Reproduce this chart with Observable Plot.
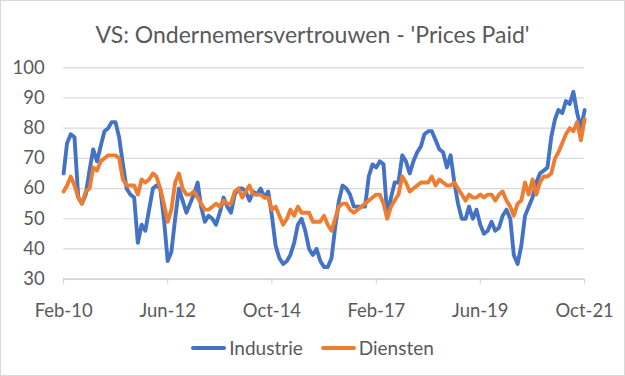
<!DOCTYPE html>
<html>
<head>
<meta charset="utf-8">
<script src="https://cdn.jsdelivr.net/npm/d3@7"></script>
<script src="https://cdn.jsdelivr.net/npm/@observablehq/plot@0.6"></script>
<style>
  html, body { margin: 0; padding: 0; background: #fff; }
  #wrap { position: relative; width: 623px; height: 374px; border: 1px solid #d9d9d9; background: #fff;
          font-family: Lato, "Liberation Sans", sans-serif; color: #595959; overflow: hidden; }
  #title { position: absolute; top: 19px; left: 0; width: 100%; text-align: center; font-size: 23px; line-height: 28px; }
  #chart { position: absolute; left: 0; top: 0; }
  #legend { position: absolute; top: 336px; left: 0; width: 100%; display: flex; justify-content: center;
            align-items: center; font-size: 19px; line-height: 22px; }
  .item { display: flex; align-items: center; margin: 0 9px; }
  .sw { width: 35px; height: 4px; border-radius: 2px; margin-right: 3px; }
</style>
</head>
<body>
<div id="wrap">
  <div id="title">VS: Ondernemersvertrouwen - 'Prices Paid'</div>
  <div id="chart"></div>
  <div id="legend"></div>
</div>
<script>
// Categories: monthly, Feb-10 .. Oct-21
const startYear = 2010, startMonth = 1, monthCount = 141;
const seriesNames = ["Industrie", "Diensten"];
const seriesColors = ["#4472C4", "#ED7D31"];

const industrie = [65,75,78,77,57,55,58,66,73,69,74,79,80,82,82,77,68,60,58,57,
  42,48,46,53,60,61,60,50,36,39,50,60,56,52,55,58,62,54,49,51,
  50,48,52,57,54,52,58,60,60,59,56,59,58,60,57,59,51,41,37,35,
  36,38,42,48,50,46,40,38,40,36,34,34,37,47,56,61,60,58,54,54,
  54,54,64,68,67,69,68,51,57,62,62,71,69,65,69,72,74,78,79,79,
  76,73,72,67,71,62,55,50,50,54,50,53,48,45,46,49,46,47,51,53,
  50,38,35,41,51,54,57,62,65,66,67,77,83,86,85,89,88,92,85,80,86];

const diensten = [59,61,64,61,57,55,59,60,67,66,69,70,71,71,71,70,63,61,61,61,
  58,63,62,63,65,64,60,55,49,53,62,65,60,58,58,59,57,55,53,53,
  54,55,54,56,55,55,59,60,57,59,61,58,58,58,57,57,53,54,51,48,
  50,53,51,54,52,52,52,49,49,49,51,48,46,50,54,55,55,53,52,53,
  54,55,56,57,58,58,55,50,54,56,58,64,62,59,60,61,62,62,62,64,
  61,63,62,61,61,62,60,58,56,58,57,57,58,57,58,58,56,58,59,56,
  54,51,55,56,62,58,63,58,62,64,64,65,70,72,75,78,80,79,82,76,83];

const yTicks = [30, 40, 50, 60, 70, 80, 90, 100];
const xTickEvery = 28; // months between labels

const months = d3.range(monthCount).map(i => new Date(Date.UTC(startYear, startMonth + i, 1)));
const xTicks = months.filter((d, i) => i % xTickEvery === 0);
const fmt = d3.utcFormat("%b-%y");

const rows = [];
seriesNames.forEach((s, k) => {
  const vals = k === 0 ? industrie : diensten;
  months.forEach((d, i) => rows.push({date: d, value: vals[i], series: s}));
});

const chart = Plot.plot({
  width: 625,
  height: 330,
  marginLeft: 62.3,
  marginRight: 40,
  marginTop: 66.5,
  marginBottom: 51.5,
  style: {fontFamily: 'Lato, "Liberation Sans", sans-serif', fontSize: "18.5px", color: "#595959", background: "transparent", overflow: "visible"},
  x: {type: "utc", domain: [months[0], months[monthCount - 1]]},
  y: {domain: [30, 100]},
  color: {domain: seriesNames, range: seriesColors},
  marks: [
    Plot.gridY(yTicks, {stroke: "#d9d9d9", strokeOpacity: 1, strokeWidth: 1.2}),
    Plot.ruleY([30], {stroke: "#d0d0d0", strokeWidth: 1.2}),
    Plot.axisX({ticks: xTicks, tickFormat: fmt, tickSize: 5, tickPadding: 20, stroke: "#d0d0d0", fill: "#595959", label: null}),
    Plot.axisY({ticks: yTicks, tickSize: 0, tickPadding: 19, fill: "#595959", label: null}),
    Plot.lineY(rows.filter(r => r.series === seriesNames[0]), {x: "date", y: "value", stroke: "series", strokeWidth: 3.9, strokeLinejoin: "round", strokeLinecap: "round"}),
    Plot.lineY(rows.filter(r => r.series === seriesNames[1]), {x: "date", y: "value", stroke: "series", strokeWidth: 3.9, strokeLinejoin: "round", strokeLinecap: "round"})
  ]
});
document.getElementById("chart").appendChild(chart);

const legend = document.getElementById("legend");
seriesNames.forEach((s, k) => {
  const item = document.createElement("div");
  item.className = "item";
  const sw = document.createElement("span");
  sw.className = "sw";
  sw.style.background = seriesColors[k];
  const lab = document.createElement("span");
  lab.textContent = s;
  item.appendChild(sw);
  item.appendChild(lab);
  legend.appendChild(item);
});
</script>
</body>
</html>
